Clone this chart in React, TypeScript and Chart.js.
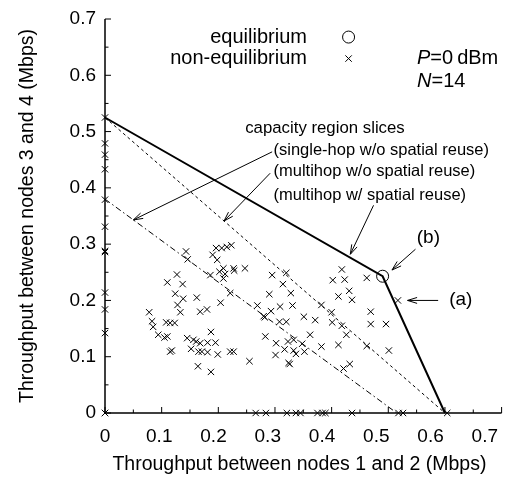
import React, { useEffect, useRef } from 'react';
import { Chart, registerables } from 'chart.js';

Chart.register(...registerables);

const FONT = '"Liberation Sans", Arial, Helvetica, sans-serif';

// ---- axes ----
const X_MIN = 0;
const X_MAX = 0.7;
const Y_MIN = 0;
const Y_MAX = 0.7;
const MINOR_STEP = 0.05;
const xTickValues = [0, 0.1, 0.2, 0.3, 0.4, 0.5, 0.6, 0.7];
const yTickValues = [0, 0.1, 0.2, 0.3, 0.4, 0.5, 0.6, 0.7];
// the printed x tick labels sit slightly left of their ticks in the original figure
const X_LABEL_AXIS_MAX = 0.731;
const xTitle = 'Throughput between nodes 1 and 2 (Mbps)\u2009\u2009';
const yTitle = 'Throughput between nodes 3 and 4 (Mbps)';

// ---- capacity region slices ----
const multihopReuseX = [0, 0.49, 0.6];
const multihopReuseY = [0.525, 0.243, 0];
const multihopNoReuseX = [0, 0.6];
const multihopNoReuseY = [0.525, 0];
const singleHopX = [0, 0.515];
const singleHopY = [0.38, 0];

// ---- equilibrium point ----
const equilibriumX = [0.49];
const equilibriumY = [0.243];

// ---- non-equilibrium points ----
const nonEqX = [
  0, 0, 0, 0, 0, 0, 0, 0, 0, 0, 0, 0, 0,
  0.266, 0.284, 0.321, 0.337, 0.345, 0.375, 0.384, 0.389, 0.436, 0.518, 0.526, 0.604,
  0.143, 0.146, 0.190, 0.196, 0.206, 0.215, 0.223, 0.198, 0.127, 0.110,
  0.137, 0.186, 0.202, 0.209, 0.212, 0.209, 0.227, 0.228, 0.247, 0.295,
  0.320, 0.314, 0.290, 0.328, 0.221, 0.124, 0.138, 0.162, 0.128, 0.133,
  0.204, 0.168, 0.180, 0.078, 0.083, 0.085, 0.108, 0.115, 0.123, 0.094,
  0.105, 0.110, 0.115, 0.118, 0.145, 0.156, 0.161, 0.187, 0.168, 0.181,
  0.195, 0.152, 0.165, 0.171, 0.181, 0.199, 0.164, 0.187, 0.221, 0.227,
  0.255, 0.269, 0.280, 0.282, 0.293, 0.309, 0.331, 0.382, 0.308, 0.320,
  0.351, 0.371, 0.283, 0.362, 0.302, 0.323, 0.333, 0.348, 0.317, 0.333,
  0.337, 0.352, 0.301, 0.382, 0.324, 0.326, 0.418, 0.402, 0.423, 0.462,
  0.431, 0.412, 0.436, 0.469, 0.400, 0.401, 0.469, 0.496, 0.418, 0.426,
  0.412, 0.462, 0.501, 0.421, 0.432, 0.517,
];
const nonEqY = [
  0.525, 0.479, 0.459, 0.433, 0.379, 0.331, 0.288, 0.286, 0.214, 0.184, 0.142, 0, 0,
  0, 0, 0, 0, 0, 0, 0, 0, 0, 0, 0, 0,
  0.287, 0.273, 0.281, 0.293, 0.293, 0.295, 0.298, 0.272, 0.246, 0.232,
  0.229, 0.245, 0.251, 0.257, 0.247, 0.239, 0.257, 0.253, 0.257, 0.245,
  0.249, 0.229, 0.211, 0.213, 0.213, 0.212, 0.203, 0.205, 0.192, 0.179,
  0.196, 0.180, 0.184, 0.179, 0.163, 0.153, 0.161, 0.160, 0.160, 0.139,
  0.134, 0.136, 0.109, 0.111, 0.133, 0.130, 0.127, 0.144, 0.124, 0.125,
  0.125, 0.114, 0.109, 0.109, 0.108, 0.104, 0.083, 0.073, 0.109, 0.109,
  0.092, 0.191, 0.172, 0.170, 0.181, 0.189, 0.191, 0.192, 0.162, 0.162,
  0.171, 0.165, 0.136, 0.139, 0.124, 0.127, 0.130, 0.123, 0.113, 0.111,
  0.105, 0.109, 0.103, 0.118, 0.089, 0.087, 0.255, 0.236, 0.237, 0.240,
  0.217, 0.207, 0.201, 0.180, 0.179, 0.161, 0.158, 0.158, 0.155, 0.139,
  0.121, 0.119, 0.111, 0.079, 0.087, 0.200,
];

// ---- text ----
const legendLabels = ['equilibrium', 'non-equilibrium'];
const regionTitle = 'capacity region slices';
const sliceLabels = [
  '(single-hop w/o spatial reuse)',
  '(multihop w/o spatial reuse)',
  '(multihop w/ spatial reuse)',
];

const zip = (xs: number[], ys: number[]) => xs.map((x, i) => ({ x, y: ys[i] }));
const fmt = (v: number) => (Math.abs(v) < 1e-9 ? '0' : Number(v).toFixed(1));

function drawArrow(ctx: CanvasRenderingContext2D, x1: number, y1: number, x2: number, y2: number) {
  const ang = Math.atan2(y2 - y1, x2 - x1);
  const L = 10;
  const A = 0.3;
  ctx.beginPath();
  ctx.moveTo(x1, y1);
  ctx.lineTo(x2, y2);
  ctx.moveTo(x2 - L * Math.cos(ang - A), y2 - L * Math.sin(ang - A));
  ctx.lineTo(x2, y2);
  ctx.lineTo(x2 - L * Math.cos(ang + A), y2 - L * Math.sin(ang + A));
  ctx.stroke();
}

function drawCross(ctx: CanvasRenderingContext2D, x: number, y: number, h: number) {
  ctx.beginPath();
  ctx.moveTo(x - h, y - h);
  ctx.lineTo(x + h, y + h);
  ctx.moveTo(x - h, y + h);
  ctx.lineTo(x + h, y - h);
  ctx.stroke();
}

const decorPlugin = {
  id: 'decor',
  beforeDatasetsDraw(chart: any) {
    const ctx: CanvasRenderingContext2D = chart.ctx;
    const xs = chart.scales.x;
    const ys = chart.scales.y;
    const X = (v: number) => xs.getPixelForValue(v);
    const Y = (v: number) => ys.getPixelForValue(v);
    ctx.save();
    ctx.strokeStyle = '#000';
    ctx.lineWidth = 1;
    ctx.beginPath();
    const n = Math.round((X_MAX - X_MIN) / MINOR_STEP);
    for (let i = 0; i <= n; i++) {
      const v = i * MINOR_STEP;
      const len = i % 2 === 0 ? 6 : 3.5;
      ctx.moveTo(X(v), Y(0));
      ctx.lineTo(X(v), Y(0) - len);
      ctx.moveTo(X(0), Y(v));
      ctx.lineTo(X(0) + len, Y(v));
    }
    ctx.stroke();
    ctx.lineWidth = 1.5;
    ctx.beginPath();
    ctx.moveTo(X(0), Y(Y_MAX));
    ctx.lineTo(X(0), Y(0));
    ctx.lineTo(X(X_MAX), Y(0));
    ctx.stroke();
    ctx.restore();
  },
  afterDraw(chart: any) {
    const ctx: CanvasRenderingContext2D = chart.ctx;
    const xs = chart.scales.x;
    const ys = chart.scales.y;
    const X = (v: number) => xs.getPixelForValue(v);
    const Y = (v: number) => ys.getPixelForValue(v);
    ctx.save();
    ctx.fillStyle = '#000';
    ctx.strokeStyle = '#000';
    ctx.lineWidth = 1;
    ctx.textBaseline = 'middle';

    // legend
    ctx.font = `20px ${FONT}`;
    ctx.textAlign = 'right';
    ctx.fillText(legendLabels[0], X(0.3564), Y(0.6679));
    ctx.fillText(legendLabels[1], X(0.3564), Y(0.6297));
    ctx.beginPath();
    ctx.arc(X(0.4299), Y(0.6679), 6, 0, Math.PI * 2);
    ctx.stroke();
    drawCross(ctx, X(0.4299), Y(0.6297), 3.2);

    // P=0dBm, N=14
    ctx.textAlign = 'left';
    let px = X(0.5507);
    ctx.font = `italic 20px ${FONT}`;
    ctx.fillText('P', px, Y(0.6297));
    px += ctx.measureText('P').width;
    ctx.font = `20px ${FONT}`;
    ctx.fillText('=0\u2009dBm', px, Y(0.6297));
    px = X(0.5507);
    ctx.font = `italic 20px ${FONT}`;
    ctx.fillText('N', px, Y(0.5885));
    px += ctx.measureText('N').width;
    ctx.font = `20px ${FONT}`;
    ctx.fillText('=14', px, Y(0.5885));

    // capacity region annotation
    ctx.font = `16.8px ${FONT}`;
    ctx.fillText(regionTitle, X(0.2475), Y(0.5057));
    ctx.font = `16.5px ${FONT}`;
    const sy = [0.4671, 0.4286, 0.3872];
    sliceLabels.forEach((t, i) => ctx.fillText(t, X(0.2974), Y(sy[i])));

    drawArrow(ctx, X(0.295), Y(0.464), X(0.05), Y(0.343));
    drawArrow(ctx, X(0.2915), Y(0.426), X(0.21), Y(0.341));
    drawArrow(ctx, X(0.474), Y(0.369), X(0.433), Y(0.282));
    drawArrow(ctx, X(0.548), Y(0.291), X(0.5065), Y(0.254));
    drawArrow(ctx, X(0.588), Y(0.2), X(0.534), Y(0.2));

    ctx.font = `19px ${FONT}`;
    ctx.textAlign = 'center';
    ctx.fillText('(b)', X(0.5707), Y(0.312));
    ctx.fillText('(a)', X(0.628), Y(0.2007));
    ctx.restore();
  },
};

export default function App() {
  const ref = useRef<HTMLCanvasElement | null>(null);
  useEffect(() => {
    if (!ref.current) return;
    const chart = new Chart(ref.current, {
      type: 'scatter',
      data: {
        datasets: [
          {
            label: 'multihop w/ spatial reuse',
            data: zip(multihopReuseX, multihopReuseY),
            showLine: true,
            borderColor: '#000',
            borderWidth: 2,
            pointRadius: 0,
            fill: false,
            clip: false,
          },
          {
            label: 'multihop w/o spatial reuse',
            data: zip(multihopNoReuseX, multihopNoReuseY),
            showLine: true,
            borderColor: '#000',
            borderWidth: 1,
            borderDash: [3, 3],
            pointRadius: 0,
            fill: false,
            clip: false,
          },
          {
            label: 'single-hop w/o spatial reuse',
            data: zip(singleHopX, singleHopY),
            showLine: true,
            borderColor: '#000',
            borderWidth: 1,
            borderDash: [6, 3, 1.5, 3],
            pointRadius: 0,
            fill: false,
            clip: false,
          },
          {
            label: 'non-equilibrium',
            data: zip(nonEqX, nonEqY),
            showLine: false,
            pointStyle: 'crossRot',
            pointRadius: 4.5,
            borderColor: '#000',
            borderWidth: 1,
            backgroundColor: 'rgba(0,0,0,0)',
            clip: false,
          },
          {
            label: 'equilibrium',
            data: zip(equilibriumX, equilibriumY),
            showLine: false,
            pointStyle: 'circle',
            pointRadius: 6,
            borderColor: '#000',
            borderWidth: 1,
            backgroundColor: 'rgba(0,0,0,0)',
            clip: false,
          },
        ] as any,
      },
      options: {
        responsive: false,
        animation: false,
        devicePixelRatio: 1,
        events: [],
        layout: { padding: { top: 19, right: 14.4, left: 0, bottom: 0 } },
        plugins: { legend: { display: false }, tooltip: { enabled: false } },
        scales: {
          x: {
            type: 'linear',
            display: false,
            min: X_MIN,
            max: X_MAX,
          },
          xl: {
            type: 'linear',
            position: 'bottom',
            min: X_MIN,
            max: X_LABEL_AXIS_MAX,
            afterBuildTicks: (s: any) => {
              s.ticks = xTickValues.map((v) => ({ value: v }));
            },
            afterFit: (s: any) => {
              s.height = 64;
              s.paddingLeft = 0;
              s.paddingRight = 0;
            },
            grid: { display: false, drawTicks: false },
            border: { display: false },
            ticks: {
              padding: 12,
              color: '#000',
              maxRotation: 0,
              autoSkip: false,
              font: { family: FONT, size: 19 },
              callback: (v: any) => fmt(Number(v)),
            },
            title: {
              display: true,
              text: xTitle,
              color: '#000',
              font: { family: FONT, size: 19.5 },
              padding: { top: 0, bottom: 1 },
            },
          },
          y: {
            type: 'linear',
            min: Y_MIN,
            max: Y_MAX,
            afterBuildTicks: (s: any) => {
              s.ticks = yTickValues.map((v) => ({ value: v }));
            },
            afterFit: (s: any) => {
              s.width = 105;
              s.paddingTop = 0;
              s.paddingBottom = 0;
            },
            grid: { display: false, drawTicks: false },
            border: { display: false },
            ticks: {
              padding: 9,
              color: '#000',
              autoSkip: false,
              font: { family: FONT, size: 19 },
              callback: (v: any) => fmt(Number(v)),
            },
            title: {
              display: true,
              text: yTitle,
              color: '#000',
              font: { family: FONT, size: 19.5 },
              padding: { top: 16, bottom: 0 },
            },
          },
        },
      } as any,
      plugins: [decorPlugin],
    });
    return () => chart.destroy();
  }, []);

  return (
    <div style={{ position: 'absolute', left: 0, top: 0, width: 516, height: 477, background: '#fff' }}>
      <canvas ref={ref} width={516} height={477} style={{ display: 'block', width: 516, height: 477 }} />
    </div>
  );
}
